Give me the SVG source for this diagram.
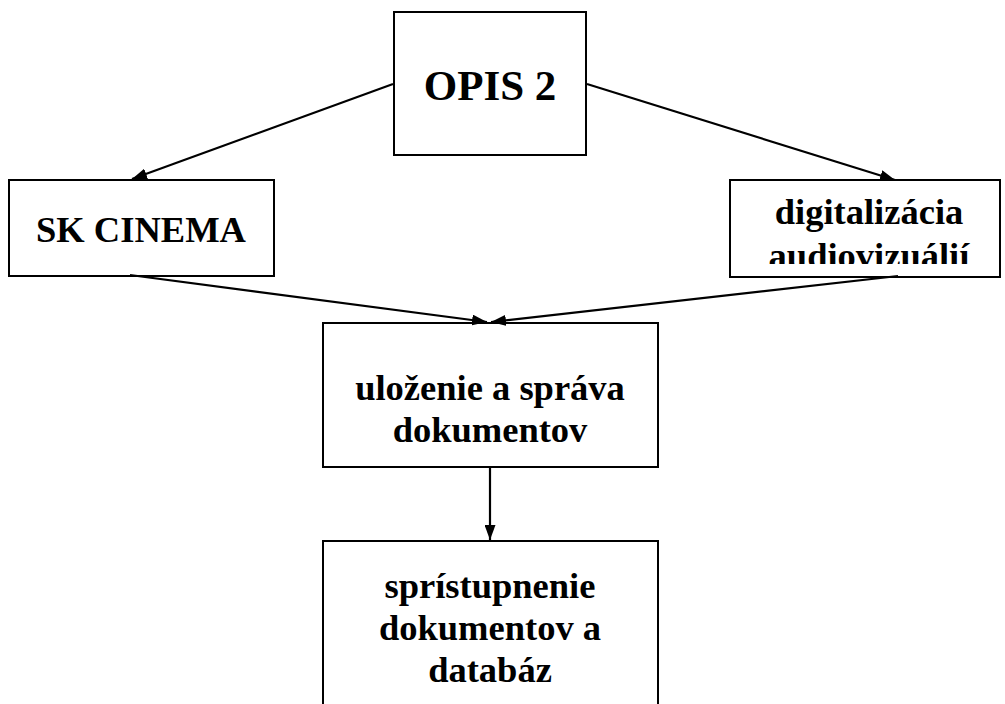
<svg xmlns="http://www.w3.org/2000/svg" width="1005" height="704" viewBox="0 0 1005 704">
<style>
.box{fill:#fff;stroke:#000;stroke-width:2}
.t{font-family:"Liberation Serif","Times New Roman",serif;font-weight:bold;font-size:36.5px;fill:#000;text-anchor:middle}
.c{fill:none;stroke:#000;stroke-width:2.2}
</style>
<defs>
<marker id="ah" viewBox="0 0 15 11" refX="15" refY="5.5" markerWidth="15" markerHeight="11" markerUnits="userSpaceOnUse" orient="auto">
<path d="M0,0 L15,5.5 L0,11 Z" fill="#000"/>
</marker>
<clipPath id="clipDig"><rect x="730" y="180" width="270" height="84"/></clipPath>
</defs>
<rect width="1005" height="704" fill="#fff"/>
<g id="n-opis">
<rect class="box" x="394" y="12" width="192" height="143"/>
<text class="t" x="490" y="100" style="font-size:43px">OPIS 2</text>
</g>
<g id="n-sk">
<rect class="box" x="9" y="180" width="265" height="96"/>
<text class="t" x="141" y="242">SK CINEMA</text>
</g>
<g id="n-dig">
<rect class="box" x="730" y="180" width="270" height="97"/>
<g clip-path="url(#clipDig)">
<text class="t" x="869" y="224">digitalizácia</text>
<text class="t" x="869" y="268">audiovizuálií</text>
</g>
</g>
<g id="n-ulozenie">
<rect class="box" x="323" y="323" width="335" height="144"/>
<text class="t" x="490" y="400">uloženie a správa</text>
<text class="t" x="490" y="442">dokumentov</text>
</g>
<g id="n-sprist">
<rect class="box" x="323" y="541" width="335" height="200"/>
<text class="t" x="490" y="598">sprístupnenie</text>
<text class="t" x="490" y="640">dokumentov a</text>
<text class="t" x="490" y="682">databáz</text>
</g>
<g id="connectors">
<line class="c" x1="393" y1="84" x2="132" y2="179" marker-end="url(#ah)"/>
<line class="c" x1="587" y1="84" x2="895" y2="180" marker-end="url(#ah)"/>
<line class="c" x1="130" y1="275" x2="487" y2="322" marker-end="url(#ah)"/>
<line class="c" x1="898" y1="276" x2="491" y2="322" marker-end="url(#ah)"/>
<line class="c" x1="490" y1="467" x2="490" y2="540" marker-end="url(#ah)"/>
</g>
</svg>
